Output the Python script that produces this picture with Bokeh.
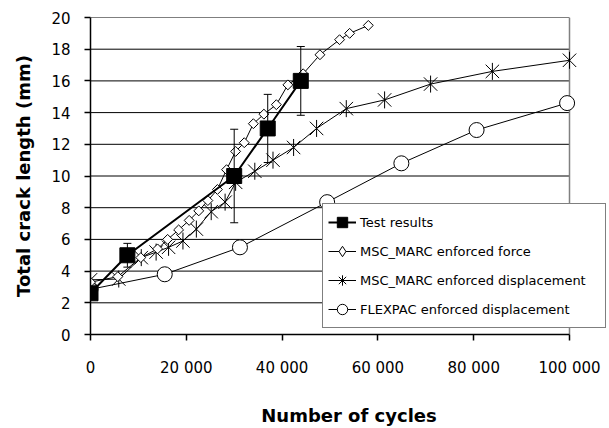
import numpy as np
from bokeh.plotting import figure
from bokeh.models import (ColumnDataSource, Range1d, Whisker, TeeHead, Legend,
                          LegendItem, FixedTicker, Span)
from bokeh.embed import file_html
from bokeh.resources import INLINE

# ---------------- data ----------------
test_x = [0, 7700, 30000, 37000, 43900]
test_y = [2.6, 5.0, 10.0, 13.0, 16.0]
test_err = [0.0, 0.75, 2.95, 2.15, 2.17]

force_x = [0, 5700, 10500, 14000, 16100, 18400, 20600, 22600, 24500, 26500, 28400,
           30300, 32100, 34000, 36200, 38800, 41200, 44400, 47900, 52000, 54100, 58000]
force_y = [3.3, 3.65, 4.85, 5.4, 6.0, 6.6, 7.2, 7.8, 8.45, 9.15, 10.4,
           11.55, 12.1, 13.3, 13.9, 14.5, 15.75, 16.45, 17.65, 18.6, 19.0, 19.5]

disp_x = [0, 5900, 10600, 13700, 16300, 19300, 22100, 25200, 28100, 30300, 34300,
          38100, 42400, 47200, 53400, 61400, 71000, 83900, 100000]
disp_y = [3.45, 3.5, 4.85, 5.2, 5.5, 5.9, 6.65, 7.75, 8.35, 9.6, 10.3,
          11.0, 11.8, 13.0, 14.25, 14.8, 15.8, 16.6, 17.3]

flex_x = [0, 15500, 31200, 49400, 64900, 80600, 99500]
flex_y = [2.85, 3.8, 5.5, 8.35, 10.8, 12.9, 14.6]

x_max = 100000
y_max = 20
x_ticks = [0, 20000, 40000, 60000, 80000, 100000]
x_tick_labels = ["0", "20 000", "40 000", "60 000", "80 000", "100 000"]
y_ticks = list(range(0, 21, 2))

series_names = ["Test results", "MSC_MARC enforced force",
                "MSC_MARC enforced displacement", "FLEXPAC enforced displacement"]

# ---------------- layout (pixels) ----------------
W, H = 609, 428
FRAME_L, FRAME_T, FRAME_B = 90, 17, 334
PLOT_R = 569            # pixel where x_max sits
FRAME_R = 607           # frame extended so the legend is not clipped
x_end = x_max * (FRAME_R - FRAME_L) / (PLOT_R - FRAME_L)

p = figure(width=W, height=H, output_backend="svg", toolbar_location=None,
           x_range=Range1d(0, x_end), y_range=Range1d(0, y_max),
           min_border_left=FRAME_L, min_border_right=W - FRAME_R,
           min_border_top=FRAME_T, min_border_bottom=H - FRAME_B)
p.background_fill_color = "white"
p.border_fill_color = "white"
p.outline_line_color = None

TICK_FONT = "DejaVu Sans"

p.xaxis.ticker = FixedTicker(ticks=x_ticks)
p.xaxis.major_label_overrides = {t: l for t, l in zip(x_ticks, x_tick_labels)}
p.xaxis.bounds = (0, x_max)
p.yaxis.ticker = FixedTicker(ticks=y_ticks)
for ax in (p.xaxis, p.yaxis):
    ax.axis_line_color = "black"
    ax.axis_line_width = 1.5
    ax.major_tick_line_color = "black"
    ax.major_tick_line_width = 1.5
    ax.major_tick_in = 0
    ax.major_tick_out = 6
    ax.minor_tick_line_color = None
    ax.major_label_text_font = TICK_FONT
    ax.major_label_text_font_size = "15px"
    ax.major_label_text_color = "black"
    ax.axis_label_text_font = TICK_FONT
    ax.axis_label_text_font_style = "bold"
    ax.axis_label_text_font_size = "18px"
    ax.axis_label_text_color = "black"

p.xaxis.axis_label = "Number of cycles"
p.yaxis.axis_label = "Total crack length (mm)"
p.xaxis.major_label_standoff = 18
p.xaxis.axis_label_standoff = 25
p.yaxis.major_label_standoff = 14
p.yaxis.axis_label_standoff = 14

p.xgrid.grid_line_color = None
p.ygrid.grid_line_color = None

# horizontal grid lines only across the plot area (0 .. x_max)
p.segment(x0=0, x1=x_max, y0=y_ticks[1:], y1=y_ticks[1:], line_color="black",
          line_width=1, level="underlay")
p.add_layout(Span(location=x_max, dimension="height", line_color="#808080",
                  line_width=1.5, level="underlay"))

# ---------------- series ----------------
# FLEXPAC
r_flex_l = p.line(flex_x, flex_y, line_color="black", line_width=1)
r_flex_m = p.scatter(flex_x, flex_y, marker="circle", size=15,
                     fill_color="white", line_color="black", line_width=1)

# MSC_MARC enforced displacement
r_disp_l = p.line(disp_x, disp_y, line_color="black", line_width=1)
r_disp_x = p.scatter(disp_x, disp_y, marker="x", size=19, line_color="black", line_width=1)
r_disp_v = p.scatter(disp_x, disp_y, marker="dash", angle=np.pi / 2, size=17,
                     line_color="black", line_width=1)

# MSC_MARC enforced force
r_force_l = p.line(force_x, force_y, line_color="black", line_width=1)
r_force_m = p.scatter(force_x, force_y, marker="square", angle=np.pi / 4, size=7,
                      fill_color="white", line_color="black", line_width=1)

# legend-only markers (the legend draws markers unrotated); their y is NaN so
# nothing is drawn in the plot area
nan_force = [float("nan")] * len(force_x)
nan_disp = [float("nan")] * len(disp_x)
r_force_leg = p.scatter(force_x, nan_force, marker="diamond", fill_color="white",
                        line_color="black", line_width=1)
r_disp_leg_x = p.scatter(disp_x, nan_disp, marker="x", line_color="black", line_width=1)
r_disp_leg_c = p.scatter(disp_x, nan_disp, marker="cross", line_color="black", line_width=1)

# Test results with error bars
err_src = ColumnDataSource(dict(
    x=test_x,
    upper=[y + e for y, e in zip(test_y, test_err)],
    lower=[y - e for y, e in zip(test_y, test_err)],
))
wh = Whisker(base="x", upper="upper", lower="lower", source=err_src,
             line_color="black", line_width=1, level="glyph",
             upper_head=TeeHead(size=8, line_color="black", line_width=1),
             lower_head=TeeHead(size=8, line_color="black", line_width=1))
p.add_layout(wh)
r_test_l = p.line(test_x, test_y, line_color="black", line_width=2)
r_test_m = p.scatter(test_x, test_y, marker="square", size=15,
                     fill_color="black", line_color="black")

legend = Legend(items=[
    LegendItem(label=series_names[0], renderers=[r_test_l, r_test_m]),
    LegendItem(label=series_names[1], renderers=[r_force_l, r_force_leg]),
    LegendItem(label=series_names[2], renderers=[r_disp_l, r_disp_leg_x, r_disp_leg_c]),
    LegendItem(label=series_names[3], renderers=[r_flex_l, r_flex_m]),
], location=(232, 6))
legend.border_line_color = "black"
legend.border_line_width = 1
legend.background_fill_color = "white"
legend.background_fill_alpha = 1
legend.label_text_font = TICK_FONT
legend.label_text_font_size = "13px"
legend.label_text_color = "black"
legend.glyph_width = 28
legend.glyph_height = 26
legend.label_height = 20
legend.label_width = 240
legend.spacing = 3
legend.padding = 5
legend.margin = 0
legend.label_standoff = 4
p.add_layout(legend, "center")

open("out.html", "w").write(file_html(p, INLINE))
